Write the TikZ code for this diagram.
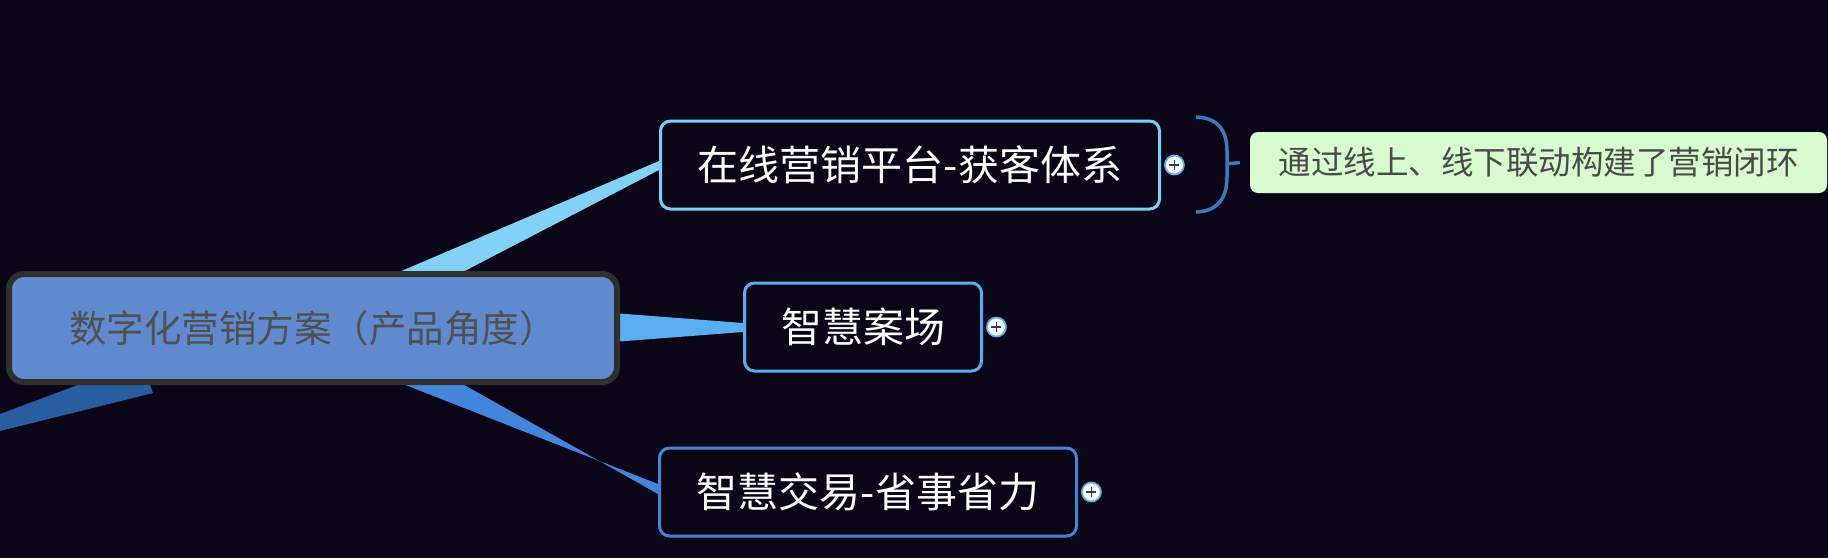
\documentclass[tikz,border=0pt]{standalone}
\usepackage{fontspec}
\setmainfont{Noto Sans CJK SC}
\usetikzlibrary{calc,positioning}

\definecolor{canvasbg}{HTML}{0A0617}
\definecolor{rootfill}{HTML}{608ACF}
\definecolor{rootline}{HTML}{2F2F2F}
\definecolor{roottext}{HTML}{505050}
\definecolor{topline}{HTML}{7DCFF7}
\definecolor{midline}{HTML}{5AAEF0}
\definecolor{lowline}{HTML}{4385DA}
\definecolor{leftlink}{HTML}{285E9F}
\definecolor{braceline}{HTML}{3C7BBA}
\definecolor{notefill}{HTML}{D8FCD0}
\definecolor{notetext}{HTML}{4A4A4A}
\definecolor{plusring}{HTML}{62B0EE}
\definecolor{plusmark}{HTML}{2D3A5A}

\pgfdeclarelayer{canvas}
\pgfdeclarelayer{links}
\pgfsetlayers{canvas,links,main}

\begin{document}
\begin{tikzpicture}[x=1pt, y=-1pt,
    rootbox/.style = {draw=rootline, line width=6pt, fill=rootfill, rounded corners=15pt,
        minimum width=608pt, minimum height=108pt, inner sep=0pt, text=roottext,
        font=\fontsize{37.5}{42}\selectfont},
    topicbox/.style = {draw=#1, line width=3pt, fill=canvasbg, rounded corners=10pt,
        minimum height=88pt, inner sep=0pt, text=white, font=\fontsize{41}{46}\selectfont},
    notebox/.style = {fill=notefill, rounded corners=8pt, minimum width=577pt,
        minimum height=61pt, inner sep=0pt, text=notetext, font=\fontsize{32.5}{36}\selectfont},
    foldicon/.style = {circle, draw=plusring, line width=1.8pt, fill=white,
        minimum size=19pt, inner sep=0pt},
    ]
    % Canvas
    \begin{pgfonlayer}{canvas}
        \fill[canvasbg] (0,0) rectangle (1828,558);
    \end{pgfonlayer}
    \useasboundingbox (0,0) rectangle (1828,558);

    % Central topic
    \node[rootbox] (root) at (313,328) {数字化营销方案（产品角度）};

    % Sub topics
    \node[topicbox=topline, minimum width=499pt] (online) at (910,165) {在线营销平台-获客体系};
    \node[topicbox=midline, minimum width=237pt] (scene) at (863,327) {智慧案场};
    \node[topicbox=lowline, minimum width=417pt] (trade) at (868,492) {智慧交易-省事省力};

    % Fold icons
    \node[foldicon, right=3pt of online] (foldA) {};
    \node[foldicon, right=3pt of scene] (foldB) {};
    \node[foldicon, right=3pt of trade] (foldC) {};
    \foreach \f in {foldA,foldB,foldC} {
        \draw[plusmark, line width=1.8pt] ($(\f)+(-5,0)$) -- ($(\f)+(5,0)$);
        \draw[plusmark, line width=1.8pt] ($(\f)+(0,-5)$) -- ($(\f)+(0,5)$);
    }

    % Summary note with brace
    \node[notebox] (summary) at (1538.5,162.5) {通过线上、线下联动构建了营销闭环};
    \coordinate (braceTop) at (1196,117);
    \coordinate (braceLow) at (1196,212);
    \coordinate (braceMid) at (1227,164);
    \draw[braceline, line width=3.5pt]
        (braceTop) .. controls (1222,118) and (1227,135) .. (1227,152)
        -- (1227,176) .. controls (1227,193) and (1222,211) .. (braceLow);
    \draw[braceline, line width=3.5pt] (braceMid) -- ($(summary.west)+(-10,0)$);

    % Tapered branches
    \coordinate (offA) at (0,414);
    \coordinate (offB) at (0,431);
    \begin{pgfonlayer}{links}
        \fill[topline!95!white] ($(root.center)+(-45,0)$) -- ($(root.center)+(42,0)$)
            -- ($(online.west)+(0,5)$) -- ($(online.west)+(0,-4)$) -- cycle;
        \fill[midline] ($(root.east)+(-20,-16)$) -- ($(root.east)+(-20,15)$)
            -- ($(scene.west)+(0,5)$) -- ($(scene.west)+(0,-4)$) -- cycle;
        \fill[lowline] ($(root.center)+(-53,0)$) -- ($(root.center)+(50,0)$)
            -- ($(trade.west)+(0,2)$) -- ($(trade.west)+(0,-8)$) -- cycle;
        \fill[leftlink] (offA) -- ($(root.south west)+(112,-15)$)
            -- ($(root.south west)+(139,-15)$) -- ($(root.south west)+(147,8)$)
            -- (offB) -- cycle;
    \end{pgfonlayer}
\end{tikzpicture}
\end{document}
